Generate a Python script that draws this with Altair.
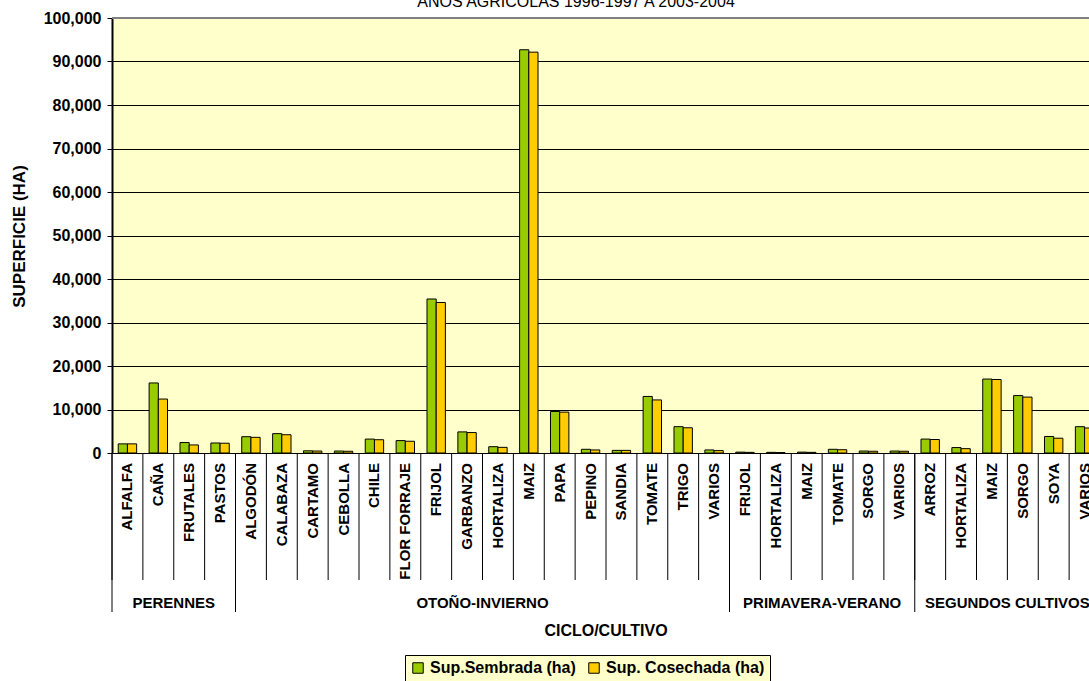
import altair as alt
import pandas as pd

F = "Liberation Sans, Arial, sans-serif"

# ---------------- data ----------------
ciclos = ["PERENNES", "OTOÑO-INVIERNO", "PRIMAVERA-VERANO", "SEGUNDOS CULTIVOS"]
cultivos_por_ciclo = [
    ["ALFALFA", "CAÑA", "FRUTALES", "PASTOS"],
    ["ALGODÓN", "CALABAZA", "CARTAMO", "CEBOLLA", "CHILE", "FLOR FORRAJE", "FRIJOL",
     "GARBANZO", "HORTALIZA", "MAIZ", "PAPA", "PEPINO", "SANDIA", "TOMATE", "TRIGO", "VARIOS"],
    ["FRIJOL", "HORTALIZA", "MAIZ", "TOMATE", "SORGO", "VARIOS"],
    ["ARROZ", "HORTALIZA", "MAIZ", "SORGO", "SOYA", "VARIOS"],
]
sembrada = [2100, 16100, 2400, 2300,
            3750, 4450, 500, 450, 3200, 2850, 35400, 4850, 1450, 92700, 9550, 850, 600, 13000, 6050, 700,
            200, 150, 200, 850, 450, 450,
            3200, 1250, 17000, 13200, 3800, 6050]
cosechada = [2100, 12400, 1850, 2250,
             3600, 4200, 450, 400, 3050, 2700, 34600, 4700, 1300, 92150, 9400, 700, 600, 12200, 5800, 550,
             150, 100, 150, 750, 400, 400,
             3100, 1000, 16900, 12850, 3400, 5750]
series = ["Sup.Sembrada (ha)", "Sup. Cosechada (ha)"]
colores = ["#99CC00", "#FFCC00"]
y_ticks = list(range(0, 100001, 10000))

# ---------------- tables ----------------
rows = []
for c, crops in zip(ciclos, cultivos_por_ciclo):
    for cr in crops:
        rows.append({"ciclo": c, "cultivo": cr, "key": c + "|" + cr})
cat_df = pd.DataFrame(rows)
keys = list(cat_df["key"])

long_rows = []
for i, r in cat_df.iterrows():
    long_rows.append({"key": r["key"], "serie": series[0], "valor": sembrada[i]})
    long_rows.append({"key": r["key"], "serie": series[1], "valor": cosechada[i]})
long_df = pd.DataFrame(long_rows)

grp_rows = []
start = 0
for c, crops in zip(ciclos, cultivos_por_ciclo):
    n = len(crops)
    grp_rows.append({"ciclo": c, "start_key": keys[start], "mid_key": keys[start + n // 2]})
    start += n
grp_df = pd.DataFrame(grp_rows)

W, H = 977, 435
xscale = alt.Scale(domain=keys, range=[0, 988], paddingInner=0, paddingOuter=0)
yscale = alt.Scale(domain=[0, 100000], nice=False)

bars = alt.Chart(long_df).mark_bar(stroke="black", strokeWidth=1).encode(
    x=alt.X("key:N", scale=xscale, axis=None),
    xOffset=alt.XOffset("serie:N", scale=alt.Scale(domain=series, paddingInner=0, paddingOuter=0.68)),
    y=alt.Y("valor:Q", scale=yscale,
            axis=alt.Axis(values=y_ticks, format=",.0f", labelFont=F, labelFontSize=16,
                          labelFontWeight="bold", labelColor="black", labelPadding=6,
                          tickColor="black", tickSize=5, tickWidth=1,
                          domainColor="black", domainWidth=2,
                          gridColor="black", gridWidth=1, gridOpacity=1,
                          title="SUPERFICIE (HA)", titleFont=F, titleFontSize=17,
                          titleFontWeight="bold", titleColor="black",
                          titleAngle=270, titleX=-93, titleY=218,
                          titleAlign="center", titleBaseline="middle")),
    color=alt.Color("serie:N", scale=alt.Scale(domain=series, range=colores),
                    legend=alt.Legend(orient="none", legendX=293, legendY=637,
                                      direction="horizontal", title=None,
                                      fillColor="#FFFFCC", strokeColor="black",
                                      padding=5, symbolType="square", symbolSize=110,
                                      symbolStrokeColor="black", symbolStrokeWidth=1,
                                      labelFont=F, labelFontSize=16, labelFontWeight="bold",
                                      labelColor="black", labelOffset=4, columnPadding=10)),
)

top_border = alt.Chart(pd.DataFrame({"v": [1]})).mark_rule(color="#808080", strokeWidth=2).encode(
    y=alt.value(0), x=alt.value(0), x2=alt.value(W),
)

cat_labels = alt.Chart(cat_df).mark_text(angle=270, align="right", baseline="middle",
                                         font=F, fontSize=15, fontWeight="bold", color="black").encode(
    x=alt.X("key:N", scale=xscale, axis=None),
    y=alt.value(H + 10),
    text="cultivo:N",
)

separators = alt.Chart(cat_df).mark_rule(color="black", strokeWidth=1).encode(
    x=alt.X("key:N", scale=xscale, axis=None, bandPosition=0),
    y=alt.value(H), y2=alt.value(H + 127),
)

grp_separators = alt.Chart(grp_df).mark_rule(color="black", strokeWidth=1).encode(
    x=alt.X("start_key:N", scale=xscale, axis=None, bandPosition=0),
    y=alt.value(H), y2=alt.value(H + 159),
)

grp_labels = alt.Chart(grp_df).mark_text(align="center", baseline="middle", font=F,
                                         fontSize=15, fontWeight="bold", color="black").encode(
    x=alt.X("mid_key:N", scale=xscale, axis=None, bandPosition=0),
    y=alt.value(H + 150),
    text="ciclo:N",
)

x_title = alt.Chart(pd.DataFrame({"t": ["CICLO/CULTIVO"]})).mark_text(
    align="center", baseline="middle", font=F, fontSize=16, fontWeight="bold", color="black").encode(
    x=alt.value(494), y=alt.value(H + 178), text="t:N")

title = alt.Chart(pd.DataFrame({"t": ["AÑOS AGRICOLAS 1996-1997 A 2003-2004"]})).mark_text(
    align="center", baseline="alphabetic", font=F, fontSize=16, color="black").encode(
    x=alt.value(464), y=alt.value(-11), text="t:N")

chart = alt.layer(bars, top_border, separators, grp_separators, cat_labels, grp_labels,
                  x_title, title).properties(
    width=W, height=H,
    autosize=alt.AutoSizeParams(type="none"),
    padding={"left": 112, "top": 18, "right": 0, "bottom": 228},
    background="white",
).configure_view(fill="#FFFFCC", stroke=None)

chart.save("out.html", embed_options={"renderer": "svg", "actions": False})
